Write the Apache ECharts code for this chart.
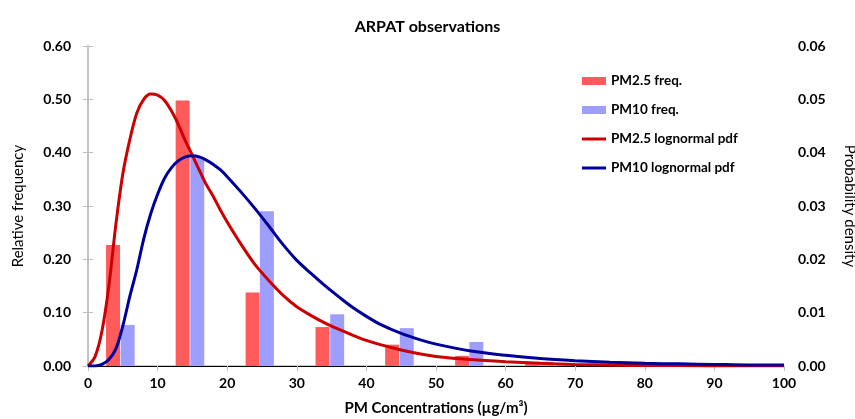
<!DOCTYPE html>
<html>
<head>
<meta charset="utf-8">
<script src="https://cdn.jsdelivr.net/npm/echarts@6/dist/echarts.min.js"></script>
<style>
html,body{margin:0;padding:0;background:#fff;}
#c{width:855px;height:419px;}
</style>
</head>
<body>
<div id="c"></div>
<script>
// Histogram bins (x = bar centre in µg/m3)
var pm25BinX = [3.6, 13.6, 23.65, 33.7, 43.7, 53.75, 63.8];
var pm25Freq = [0.227, 0.498, 0.138, 0.073, 0.040, 0.019, 0.006];
var pm10BinX = [5.7, 15.7, 25.7, 35.8, 45.8, 55.8, 65.8];
var pm10Freq = [0.077, 0.392, 0.290, 0.097, 0.071, 0.045, 0.008];

// Lognormal pdf curves
var pdfX = [0,1,2,3,4,5,6,7,8,9,10,11,12,13,14,15,16,17,18,19,20,22,24,26,28,30,32,34,36,38,40,42,45,48,50,55,60,65,70,75,80,85,90,95,100];
var pm25Pdf = [0,0.0017,0.0065,0.0150,0.0265,0.0360,0.0424,0.0474,0.0500,0.0510,0.0508,0.0498,0.0478,0.0452,0.0422,0.0395,0.0367,0.0340,0.0318,0.0293,0.0270,0.0228,0.0190,0.0160,0.0133,0.0111,0.0095,0.0081,0.0069,0.0058,0.0048,0.0040,0.0030,0.0022,0.0018,0.0012,0.0008,0.0005,0.0003,0.0002,0.0001,0.0001,0,0,0];
var pm10Pdf = [0,0,0.0003,0.0012,0.0032,0.0075,0.0130,0.0180,0.0238,0.0285,0.0322,0.0352,0.0372,0.0385,0.0392,0.0394,0.0392,0.0386,0.0378,0.0368,0.0355,0.0326,0.0295,0.0262,0.0228,0.0198,0.0174,0.0151,0.0130,0.0110,0.0093,0.0078,0.0061,0.0048,0.0041,0.0028,0.0020,0.0014,0.0010,0.0007,0.0005,0.0004,0.0003,0.0002,0.0002];

var xTicks = [0,10,20,30,40,50,60,70,80,90,100];

function pairs(xs, ys){ return xs.map(function(x,i){ return [x, ys[i]]; }); }

var FONT = 'Lato, "Open Sans", sans-serif';
var LINE_ICON = 'path://M0,0L24,0L24,3L0,3Z';
var chart = echarts.init(document.getElementById('c'));
chart.setOption({
  animation: false,
  backgroundColor: '#fff',
  textStyle: {fontFamily: FONT},
  title: {
    text: 'ARPAT observations', left: 'center', top: 14,
    textStyle: {fontFamily: FONT, fontSize: 16, fontWeight: 'bold', color: '#000'}
  },
  legend: {
    orient: 'vertical', left: 577, top: 69, itemGap: 15,
    itemWidth: 24, itemHeight: 8,
    textStyle: {fontFamily: FONT, fontSize: 13.5, fontWeight: 'bold', color: '#000'},
    data: [
      {name: 'PM2.5 freq.', icon: 'rect'},
      {name: 'PM10 freq.', icon: 'rect'},
      {name: 'PM2.5 lognormal pdf', icon: LINE_ICON},
      {name: 'PM10 lognormal pdf', icon: LINE_ICON}
    ]
  },
  grid: {left: 88, right: 71, top: 46, bottom: 53, outerBoundsMode: 'none', containLabel: false},
  xAxis: [{
    type: 'value', min: 0, max: 100, interval: 10,
    name: 'PM Concentrations (µg/m³)', nameLocation: 'middle', nameGap: 35,
    nameTextStyle: {fontFamily: FONT, fontSize: 15, fontWeight: 'bold', color: '#000'},
    axisLine: {show: true, onZero: false, lineStyle: {color: '#BFBFBF', width: 1.5}},
    axisTick: {show: true, length: 5, lineStyle: {color: '#BFBFBF'}},
    axisLabel: {fontFamily: FONT, fontSize: 14, fontWeight: 'bold', color: '#000', margin: 10,
      formatter: function(v){ return xTicks.indexOf(v) >= 0 ? String(v) : ''; }},
    splitLine: {show: false}
  }, {
    type: 'value', min: 0, max: 100, position: 'top',
    axisLine: {show: true, lineStyle: {color: '#000', width: 1}},
    axisTick: {show: false}, axisLabel: {show: false}, splitLine: {show: false}
  }],
  yAxis: [{
    type: 'value', min: 0, max: 0.6, interval: 0.1,
    name: 'Relative frequency', nameLocation: 'middle', nameGap: 62,
    nameTextStyle: {fontFamily: FONT, fontSize: 15, color: '#000'},
    axisLine: {show: true, lineStyle: {color: '#BFBFBF', width: 1.5}},
    axisTick: {show: true, length: 5, lineStyle: {color: '#BFBFBF'}},
    axisLabel: {fontFamily: FONT, fontSize: 14, fontWeight: 'bold', color: '#000', margin: 17,
      formatter: function(v){ return v.toFixed(2); }},
    splitLine: {show: false}
  }, {
    type: 'value', min: 0, max: 0.06, interval: 0.01, position: 'right',
    name: 'Probability density', nameLocation: 'middle', nameGap: 58, nameRotate: -90,
    nameTextStyle: {fontFamily: FONT, fontSize: 15, color: '#000'},
    axisLine: {show: true, lineStyle: {color: '#BFBFBF', width: 1.5}},
    axisTick: {show: true, length: 5, lineStyle: {color: '#BFBFBF'}},
    axisLabel: {fontFamily: FONT, fontSize: 14, fontWeight: 'bold', color: '#000', margin: 14,
      formatter: function(v){ return v.toFixed(2); }},
    splitLine: {show: false}
  }],
  series: [
    {name: 'PM2.5 freq.', type: 'bar', xAxisIndex: 0, yAxisIndex: 0, barWidth: 14, barGap: '-100%',
      itemStyle: {color: '#FF5B5B'}, data: pairs(pm25BinX, pm25Freq), z: 2},
    {name: 'PM10 freq.', type: 'bar', xAxisIndex: 0, yAxisIndex: 0, barWidth: 14, barGap: '-100%',
      itemStyle: {color: '#9E9EFF'}, data: pairs(pm10BinX, pm10Freq), z: 2},
    {name: 'PM2.5 lognormal pdf', type: 'line', xAxisIndex: 0, yAxisIndex: 1, smooth: 0.3,
      symbol: 'none', lineStyle: {color: '#CC0000', width: 3}, itemStyle: {color: '#CC0000'},
      data: pairs(pdfX, pm25Pdf), z: 3},
    {name: 'PM10 lognormal pdf', type: 'line', xAxisIndex: 0, yAxisIndex: 1, smooth: 0.3,
      symbol: 'none', lineStyle: {color: '#000099', width: 3}, itemStyle: {color: '#000099'},
      data: pairs(pdfX, pm10Pdf), z: 4}
  ]
});
</script>
</body>
</html>
